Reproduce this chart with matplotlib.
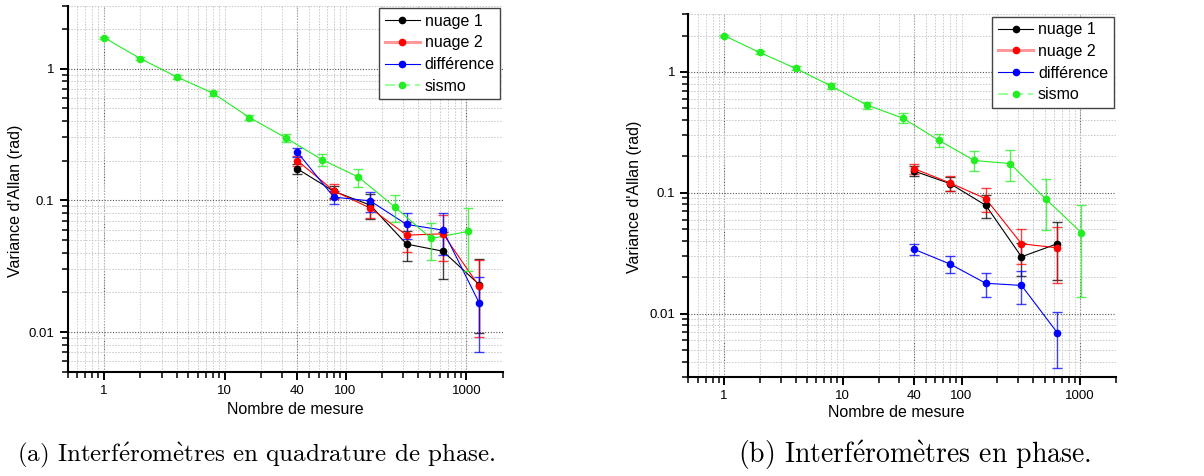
import numpy as np
import matplotlib
matplotlib.use("Agg")
import matplotlib.pyplot as plt
from matplotlib.lines import Line2D
from matplotlib.ticker import LogLocator, FixedLocator, NullFormatter

plt.rcParams['font.family'] = ['Liberation Sans', 'DejaVu Sans']
plt.rcParams['mathtext.fontset'] = 'cm'

# nombre de mesures
x_sismo = [1, 2, 4, 8, 16, 32, 64, 128, 256, 512, 1024]
x_a = [40, 80, 160, 320, 640, 1280]
x_b = [40, 80, 160, 320, 640]

# (a) quadrature de phase
a_nuage1 = [0.173, 0.117, 0.092, 0.0465, 0.0411, 0.0229]
a_nuage1_err = [0.015, 0.012, 0.02, 0.012, 0.016, 0.013]
a_nuage2 = [0.1995, 0.118, 0.0873, 0.0544, 0.0557, 0.0222]
a_nuage2_err = [0.018, 0.015, 0.014, 0.014, 0.021, 0.013]
a_diff = [0.231, 0.1057, 0.099, 0.0656, 0.0594, 0.0166]
a_diff_err = [0.018, 0.012, 0.017, 0.015, 0.021, 0.0095]
a_sismo = [1.72, 1.19, 0.865, 0.65, 0.425, 0.298, 0.203, 0.150, 0.089, 0.0513, 0.058]
a_sismo_err = [0.03, 0.03, 0.03, 0.03, 0.02, 0.02, 0.021, 0.023, 0.02, 0.016, 0.029]

# (b) en phase
b_nuage1 = [0.151, 0.119, 0.0787, 0.0295, 0.0378]
b_nuage1_err = [0.014, 0.015, 0.017, 0.009, 0.019]
b_nuage2 = [0.158, 0.1206, 0.0893, 0.0378, 0.0350]
b_nuage2_err = [0.015, 0.017, 0.02, 0.012, 0.017]
b_diff = [0.034, 0.0257, 0.0178, 0.0171, 0.00695]
b_diff_err = [0.0035, 0.004, 0.004, 0.0052, 0.0034]
b_sismo = [2.0, 1.45, 1.07, 0.765, 0.532, 0.415, 0.273, 0.185, 0.1745, 0.0889, 0.0467]
b_sismo_err = [0.04, 0.04, 0.04, 0.04, 0.035, 0.04, 0.034, 0.035, 0.05, 0.04, 0.033]

labels = ["nuage 1", "nuage 2", "différence", "sismo"]
colors = ["black", "red", "blue", "#22ee22"]
xticks = [1, 10, 40, 100, 1000]
# légendes des sous-figures (accents via mathtext, police Computer Modern)
captions = [r"(a) Interf$\acute{\rm e}$rom$\grave{\rm e}$tres en quadrature de phase.",
            r"(b) Interf$\acute{\rm e}$rom$\grave{\rm e}$tres en phase."]


def draw_panel(ax, ylim, series, xlab_pos, ylab_pos):
    for (x, y, e), c in zip(series, colors):
        ax.plot(x, y, color=c, lw=0.8, zorder=3)
        ax.errorbar(x, y, yerr=e, fmt='none', ecolor=c, elinewidth=1.0,
                    capsize=3.5, capthick=1.0, alpha=0.75, zorder=3)
        ax.plot(x, y, 'o', color=c, ms=4.5, zorder=4)

    ax.set_xscale('log')
    ax.set_yscale('log')
    ax.set_xlim(0.5, 2000)
    ax.set_ylim(*ylim)

    # grille
    ax.xaxis.set_minor_locator(LogLocator(base=10, subs=np.arange(2, 10)))
    ax.yaxis.set_minor_locator(LogLocator(base=10, subs=np.arange(2, 10)))
    ax.xaxis.set_minor_formatter(NullFormatter())
    ax.yaxis.set_minor_formatter(NullFormatter())
    ax.grid(which='minor', color='#c8c8c8', ls=(0, (1.5, 1.5)), lw=0.7, zorder=0)
    ax.grid(which='major', axis='x', color='#c8c8c8', ls=(0, (1.5, 1.5)), lw=0.7, zorder=0)
    ax.grid(which='major', axis='y', color='#555555', ls=(0, (1, 1.5)), lw=0.8, zorder=1)
    for xv in [1, 40, 1000]:
        ax.axvline(xv, color='#555555', ls=(0, (1, 1.5)), lw=0.8, zorder=1)

    ax.xaxis.set_major_locator(FixedLocator(xticks))
    ax.set_xticklabels([str(v) for v in xticks])
    ax.set_yticks([0.01, 0.1, 1])
    ax.set_yticklabels(["0.01", "0.1", "1"])
    ax.tick_params(which='major', direction='out', length=6, width=1.4, labelsize=9.5)
    ax.tick_params(which='minor', direction='out', length=4, width=1.1)

    ax.spines['top'].set_visible(False)
    ax.spines['right'].set_visible(False)
    ax.spines['left'].set_linewidth(1.5)
    ax.spines['bottom'].set_linewidth(1.5)

    ax.set_xlabel("Nombre de mesure", fontsize=11.5, va='top')
    ax.set_ylabel("Variance d'Allan (rad)", fontsize=11.5, va='center')
    ax.xaxis.set_label_coords(*xlab_pos)
    ax.yaxis.set_label_coords(*ylab_pos)

    handles = [
        Line2D([], [], color='black', lw=0.8, marker='o', ms=4.5),
        Line2D([], [], color='#ff9999', lw=2.2, marker='o', ms=4.5, mfc='red', mec='red'),
        Line2D([], [], color='blue', lw=0.8, marker='o', ms=4.5),
        Line2D([], [], color='#88ff88', lw=1.2, ls=(0, (6, 3)), marker='o', ms=4.5,
               mfc='#22ee22', mec='#22ee22'),
    ]
    leg = ax.legend(handles, labels, loc='upper right', fontsize=11.5,
                    fancybox=False, framealpha=1, edgecolor='#444444',
                    borderpad=0.35, handlelength=2.2, handletextpad=0.3,
                    labelspacing=0.42, borderaxespad=0.15)
    leg.get_frame().set_linewidth(1.0)
    leg.set_zorder(10)


fig = plt.figure(figsize=(12.04, 4.76), dpi=100)
ax1 = fig.add_axes([0.0562, 0.2191, 0.3613, 0.7689])
ax2 = fig.add_axes([0.5717, 0.2086, 0.3552, 0.7613])

draw_panel(ax1, (0.005, 3.0),
           [(x_a, a_nuage1, a_nuage1_err), (x_a, a_nuage2, a_nuage2_err),
            (x_a, a_diff, a_diff_err), (x_sismo, a_sismo, a_sismo_err)],
           (0.5225, -0.083), (-0.121, 0.466))
draw_panel(ax2, (0.003, 3.0),
           [(x_b, b_nuage1, b_nuage1_err), (x_b, b_nuage2, b_nuage2_err),
            (x_b, b_diff, b_diff_err), (x_sismo, b_sismo, b_sismo_err)],
           (0.487, -0.078), (-0.125, 0.497))

fig.text(256 / 1204, 1 - 455 / 476, captions[0], fontsize=18, family='cmr10',
         ha='center', va='center')
fig.text(915 / 1204, 1 - 455 / 476, captions[1], fontsize=20, family='cmr10',
         ha='center', va='center')

fig.savefig("out.png", dpi=100)
